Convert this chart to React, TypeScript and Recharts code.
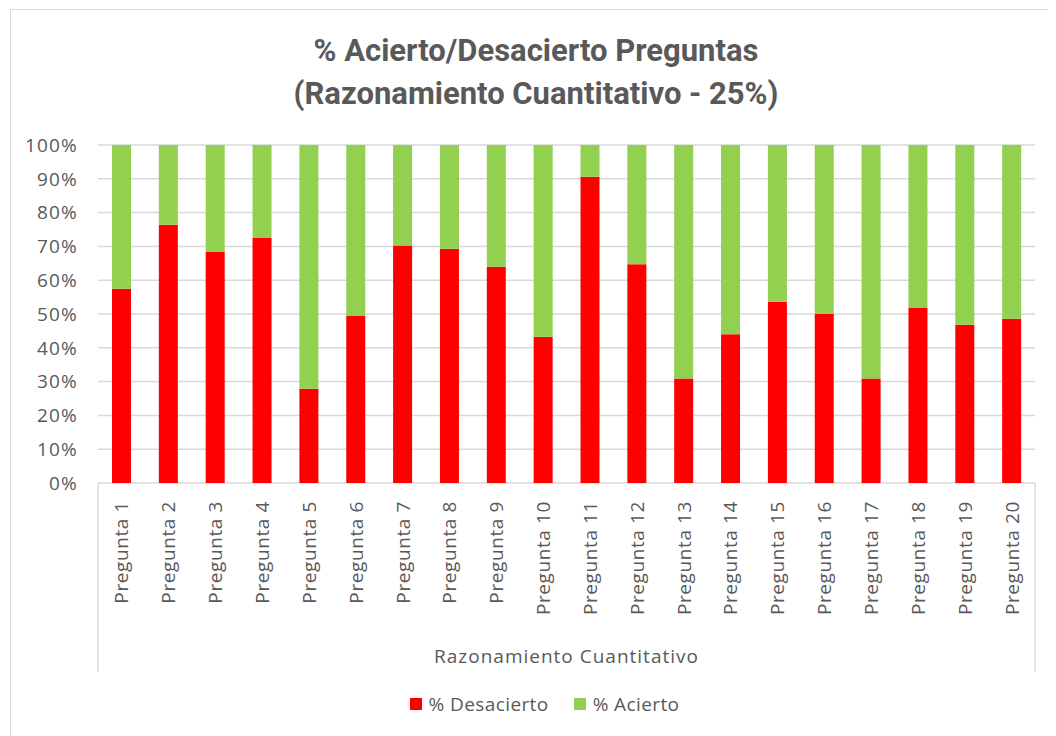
import React from 'react';
import { BarChart, Bar, XAxis, YAxis, CartesianGrid, Legend } from 'recharts';

const preguntas = [
  'Pregunta 1', 'Pregunta 2', 'Pregunta 3', 'Pregunta 4', 'Pregunta 5',
  'Pregunta 6', 'Pregunta 7', 'Pregunta 8', 'Pregunta 9', 'Pregunta 10',
  'Pregunta 11', 'Pregunta 12', 'Pregunta 13', 'Pregunta 14', 'Pregunta 15',
  'Pregunta 16', 'Pregunta 17', 'Pregunta 18', 'Pregunta 19', 'Pregunta 20',
];
const desacierto = [57.5, 76.4, 68.5, 72.5, 27.9, 49.4, 70.3, 69.3, 64.0, 43.3, 90.6, 64.7, 30.9, 44.0, 53.6, 50.1, 30.9, 51.9, 46.8, 48.6];
const acierto = [42.5, 23.6, 31.5, 27.5, 72.1, 50.6, 29.7, 30.7, 36.0, 56.7, 9.4, 35.3, 69.1, 56.0, 46.4, 49.9, 69.1, 48.1, 53.2, 51.4];
const yTicks = [0, 10, 20, 30, 40, 50, 60, 70, 80, 90, 100];

const data = preguntas.map((name, i) => ({ name, desacierto: desacierto[i], acierto: acierto[i] }));

const FONT = '"Open Sans", sans-serif';
const GRAY = '#595959';
const RED = '#FF0000';
const GREEN = '#92D050';

const CategoryTick = (props: any) => {
  const { x, y, payload, index } = props;
  const half = payload.offset || 0;
  return (
    <g>
      <text
        x={x}
        y={y + 18}
        transform={`rotate(-90, ${x}, ${y + 18})`}
        textAnchor="end"
        dominantBaseline="central"
        fill={GRAY}
        fontSize={19}
        letterSpacing={0.6}
        fontFamily={FONT}
      >
        {payload.value}
      </text>
      {index === 0 && <line x1={x - half} x2={x - half} y1={y} y2={y + 189} stroke="#d9d9d9" strokeWidth={1.5} />}
      {index === preguntas.length - 1 && <line x1={x + half} x2={x + half} y1={y} y2={y + 189} stroke="#d9d9d9" strokeWidth={1.5} />}
    </g>
  );
};

const LegendContent = () => (
  <div style={{ display: 'flex', justifyContent: 'center', alignItems: 'center', gap: 25, paddingLeft: 16, fontFamily: FONT, fontSize: 19, letterSpacing: 0.4, color: GRAY, height: 24 }}>
    {[{ label: '% Desacierto', color: RED }, { label: '% Acierto', color: GREEN }].map((item) => (
      <div key={item.label} style={{ display: 'flex', alignItems: 'center', gap: 7 }}>
        <span style={{ width: 12, height: 12, background: item.color, display: 'inline-block' }} />
        <span>{item.label}</span>
      </div>
    ))}
  </div>
);

export default function App() {
  return (
    <div style={{ position: 'relative', width: 1048, height: 728 }}>
      <div style={{ position: 'absolute', left: 2, top: 1, width: 1050, height: 740, border: '1.5px solid #d9d9d9', boxSizing: 'border-box', pointerEvents: 'none' }} />
      <div
        style={{
          position: 'absolute', left: 0, top: 21, width: 1056, textAlign: 'center',
          fontFamily: 'Roboto, sans-serif', fontWeight: 700, fontSize: 31, lineHeight: '43px', color: GRAY,
        }}
      >
        <div>% Acierto/Desacierto Preguntas</div>
        <div>(Razonamiento Cuantitativo - 25%)</div>
      </div>
      <BarChart
        width={1048}
        height={728}
        data={data}
        margin={{ top: 137, right: 21, left: 30, bottom: 20 }}
        barSize={19}
      >
        <CartesianGrid vertical={false} stroke="#d9d9d9" strokeWidth={1.5} />
        <XAxis
          dataKey="name"
          height={209}
          axisLine={false}
          tickLine={false}
          tickSize={0}
          tickMargin={0}
          interval={0}
          tick={<CategoryTick />}
          label={{ value: 'Razonamiento Cuantitativo', position: 'insideBottom', offset: 29, fill: GRAY, fontSize: 19, letterSpacing: 1, fontFamily: FONT }}
        />
        <YAxis
          width={60}
          domain={[0, 100]}
          ticks={yTicks}
          tickFormatter={(v: number) => `${v}%`}
          axisLine={false}
          tickLine={false}
          tickSize={0}
          tickMargin={20}
          tick={{ fill: GRAY, fontSize: 19, letterSpacing: 1.2, fontFamily: FONT }}
        />
        <Legend verticalAlign="bottom" height={24} content={<LegendContent />} />
        <Bar dataKey="desacierto" name="% Desacierto" stackId="a" fill={RED} isAnimationActive={false} />
        <Bar dataKey="acierto" name="% Acierto" stackId="a" fill={GREEN} isAnimationActive={false} />
      </BarChart>
    </div>
  );
}
